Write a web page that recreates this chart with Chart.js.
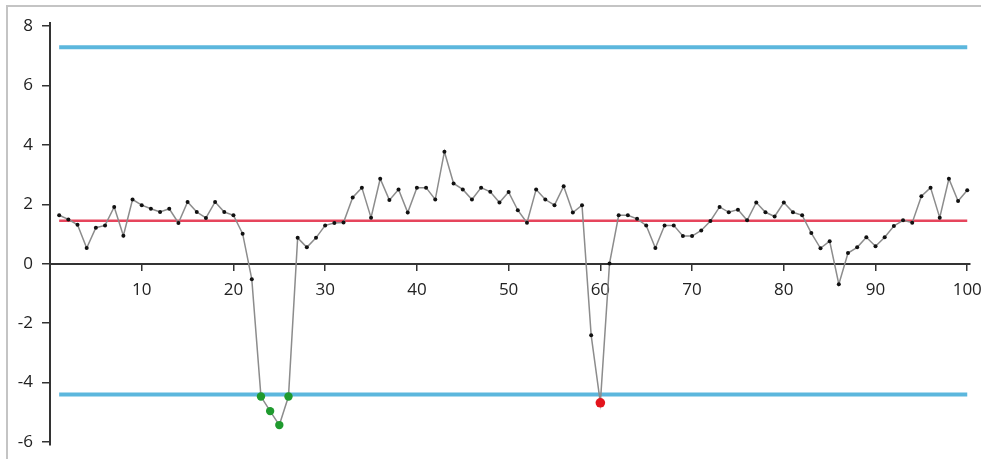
<!DOCTYPE html>
<html>
<head>
<meta charset="utf-8">
<script src="https://cdn.jsdelivr.net/npm/chart.js@4"></script>
<style>
    html, body { margin: 0; padding: 0; background: #fff; overflow: hidden; }
    #wrap { position: relative; width: 981px; height: 459px; overflow: hidden; }
    #frame {
        position: absolute; left: 6px; top: 5px; width: 1200px; height: 600px;
        border-top: 2px solid #c4c4c4; border-left: 2px solid #c4c4c4;
    }
    canvas { position: absolute; left: 0; top: 0; }
</style>
</head>
<body>
<div id="wrap">
    <div id="frame"></div>
    <canvas id="chart-spc" width="981" height="459"></canvas>
</div>
<script>
// observation values, sample 1..100
const values = [
    1.63, 1.49, 1.31, 0.53, 1.21, 1.29, 1.91, 0.94, 2.16, 1.97,
    1.85, 1.74, 1.85, 1.37, 2.08, 1.74, 1.54, 2.08, 1.74, 1.63,
    1.01, -0.52, -4.47, -4.96, -5.43, -4.47, 0.87, 0.55, 0.87, 1.29,
    1.37, 1.39, 2.23, 2.56, 1.55, 2.86, 2.14, 2.50, 1.72, 2.56,
    2.56, 2.16, 3.77, 2.70, 2.50, 2.16, 2.56, 2.42, 2.06, 2.41,
    1.80, 1.38, 2.50, 2.16, 1.97, 2.61, 1.72, 1.97, -2.41, -4.68,
    0.01, 1.63, 1.63, 1.51, 1.29, 0.53, 1.29, 1.29, 0.93, 0.93,
    1.12, 1.44, 1.91, 1.73, 1.82, 1.46, 2.06, 1.73, 1.59, 2.06,
    1.73, 1.63, 1.03, 0.52, 0.76, -0.69, 0.36, 0.55, 0.89, 0.59,
    0.89, 1.27, 1.46, 1.38, 2.27, 2.56, 1.55, 2.86, 2.11, 2.47,
];
const samples = values.map((v, i) => i + 1);

const greenPoints = [23, 24, 25, 26];
const redPoints = [60];

const upperLimit = 7.28;
const lowerLimit = -4.4;
const centerLine = 1.45;
const limitSpan = [1, 100];

const xTicks = [10, 20, 30, 40, 50, 60, 70, 80, 90, 100];
const yTicks = [-6, -4, -2, 0, 2, 4, 6, 8];

function pointColor(n) {
    if (greenPoints.includes(n)) return '#1f9a2e';
    if (redPoints.includes(n)) return '#e3141c';
    return '#111';
}
function pointSize(n) {
    if (greenPoints.includes(n)) return 4.2;
    if (redPoints.includes(n)) return 4.8;
    return 2;
}

const hLine = y => limitSpan.map(x => ({ x: x, y: y }));
const font = { family: "'Open Sans', sans-serif", size: 17 };

new Chart(document.getElementById('chart-spc'), {
    type: 'line',
    data: {
        datasets: [
            {
                data: samples.map((x, i) => ({ x: x, y: values[i] })),
                borderColor: '#8c8c8c',
                borderWidth: 1.5,
                pointRadius: samples.map(pointSize),
                pointBackgroundColor: samples.map(pointColor),
                pointBorderColor: samples.map(pointColor),
                pointBorderWidth: 0,
                tension: 0,
            },
            {
                data: hLine(centerLine),
                borderColor: '#e6455c',
                borderWidth: 2.5,
                pointRadius: 0,
            },
            {
                data: hLine(upperLimit),
                borderColor: '#5cb7dd',
                borderWidth: 4,
                pointRadius: 0,
            },
            {
                data: hLine(lowerLimit),
                borderColor: '#5cb7dd',
                borderWidth: 4,
                pointRadius: 0,
            },
        ],
    },
    options: {
        responsive: false,
        animation: false,
        layout: { padding: { left: 6, right: 11, top: 23, bottom: 14 } },
        plugins: { legend: { display: false }, tooltip: { enabled: false } },
        scales: {
            x: {
                type: 'linear',
                position: { y: 0 },
                min: 0,
                max: 100.3,
                afterBuildTicks: s => { s.ticks = xTicks.map(v => ({ value: v })); },
                afterFit: s => { s.paddingLeft = 0; s.paddingRight = 0; },
                ticks: { color: '#222', font: font, padding: 10, maxRotation: 0 },
                grid: { drawOnChartArea: false, tickLength: 6, color: '#333', lineWidth: 1.5 },
                border: { color: '#333', width: 2 },
            },
            y: {
                min: -6.1,
                max: 8.1,
                afterBuildTicks: s => { s.ticks = yTicks.map(v => ({ value: v })); },
                afterFit: s => { s.width = 44; s.paddingTop = 0; s.paddingBottom = 0; },
                ticks: { color: '#222', font: font, padding: 9 },
                grid: { drawOnChartArea: false, tickLength: 8, color: '#333', lineWidth: 1.5 },
                border: { color: '#333', width: 2 },
            },
        },
    },
});
</script>
</body>
</html>
